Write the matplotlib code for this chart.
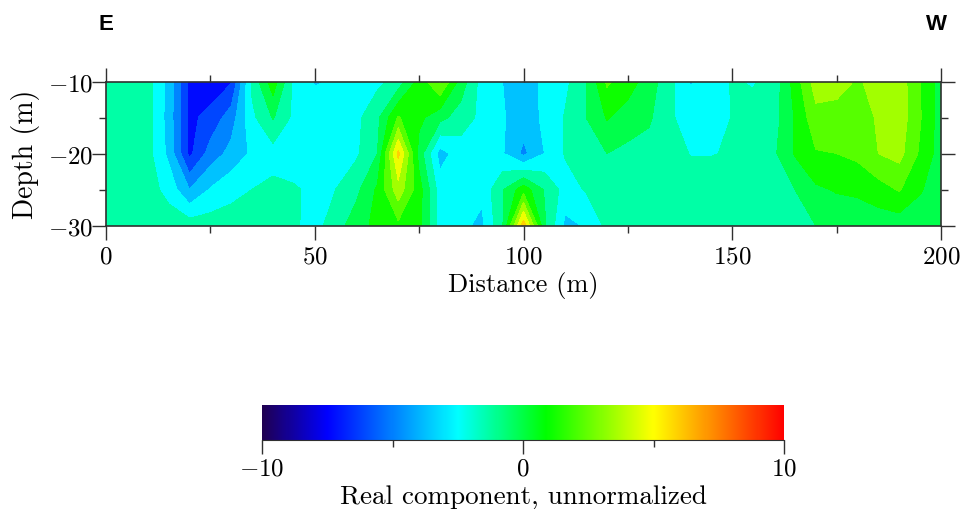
import numpy as np
import matplotlib
matplotlib.use("Agg")
import matplotlib.pyplot as plt
from matplotlib.cm import ScalarMappable
from matplotlib.colors import LinearSegmentedColormap, Normalize

plt.rcParams["font.family"] = ["cmr10", "DejaVu Serif"]
plt.rcParams["mathtext.fontset"] = "cm"
plt.rcParams["axes.formatter.use_mathtext"] = True

distance = np.arange(0, 201, 5)
depth = [-10, -15, -20, -25, -30]

# real component, one row per depth (5 m steps, 10 per line)
row_10 = [-1.3, -1.3, -1.4, -3.5, -7.0, -7.5, -6.8, -1.6, 1.2, -2.2,
          -3.2, -3.0, -2.5, -2.2, -1.4, 0.9, 3.0, 0.0, -2.4, -3.1,
          -3.6, -2.9, -2.2, -0.8, 1.9, 1.1, -0.1, -1.5, -3.2, -2.6,
          -1.8, -2.0, -1.4, 1.0, 3.5, 3.3, 2.8, 3.2, 3.6, 1.7,
          -0.1]
row_15 = [-1.3, -1.3, -1.4, -3.6, -7.0, -6.3, -4.9, -2.2, -0.6, -2.2,
          -2.4, -2.4, -2.2, -1.0, 1.8, 0.8, -0.3, -1.3, -2.2, -3.0,
          -3.7, -2.9, -1.8, -0.7, 0.6, -0.1, -0.5, -1.7, -2.5, -2.5,
          -1.85, -1.5, -1.2, 0.6, 2.5, 2.5, 2.5, 3.0, 3.6, 1.8,
          -0.1]
row_20 = [-1.3, -1.3, -1.5, -3.4, -7.0, -5.0, -3.9, -2.9, -2.4, -2.4,
          -2.4, -2.4, -2.1, -0.7, 5.6, 0.0, -3.6, -2.5, -2.2, -3.0,
          -4.6, -3.1, -1.8, -1.3, -0.7, -1.0, -1.2, -1.4, -1.95, -1.95,
          -1.8, -1.3, -0.9, 0.6, 1.6, 1.7, 2.0, 2.9, 3.3, 1.5,
          -0.1]
row_25 = [-1.3, -1.3, -1.4, -2.3, -4.3, -3.0, -2.3, -1.9, -1.6, -1.8,
          -2.1, -1.9, -1.0, 0.7, 3.6, 1.0, -2.5, -2.5, -2.8, -0.8,
          1.2, -0.8, -2.4, -1.8, -1.4, -1.3, -1.3, -1.3, -1.3, -1.3,
          -1.3, -1.3, -1.2, -0.7, 0.3, 0.6, 0.7, 1.2, 1.8, 0.6,
          -0.1]
row_30 = [-1.3, -1.3, -1.3, -1.3, -1.3, -1.3, -1.3, -1.3, -1.3, -1.7,
          -2.4, -1.2, -0.1, 0.9, 1.4, 0.9, -2.4, -2.8, -3.4, -0.8,
          6.0, -0.5, -3.4, -3.0, -1.6, -1.3, -1.3, -1.3, -1.3, -1.3,
          -1.3, -1.3, -1.3, -1.2, -0.7, -0.3, -0.2, -0.2, -0.2, -0.1,
          -0.1]
values = np.array([row_10, row_15, row_20, row_25, row_30])

levels = 0.5 + 1.2 * np.arange(-9, 9)

cbar_stops = [(0.0, "#200050"), (0.125, "#0000ff"), (0.375, "#00ffff"),
              (0.545, "#00ff00"), (0.75, "#ffff00"), (1.0, "#ff0000")]
cmap = LinearSegmentedColormap.from_list("rainbow_real", cbar_stops, N=512)
norm = Normalize(-10, 10)

W, H = 963, 510
fig = plt.figure(figsize=(W / 100, H / 100), dpi=100)

ax = fig.add_axes([106 / W, 1 - 226.5 / H, 835 / W, 144 / H])
ax.contourf(distance, depth, values, levels=levels, cmap=cmap, norm=norm)
ax.set_xlim(0, 200)
ax.set_ylim(-30, -10)
ax.set_xticks([0, 50, 100, 150, 200])
ax.set_xticks([25, 75, 125, 175], minor=True)
ax.set_yticks([-30, -20, -10])
ax.set_yticks([-25, -15], minor=True)
ax.set_yticklabels(["$-30$", "$-20$", "$-10$"])
ax.tick_params(which="major", direction="out", length=10, width=1, top=True,
               right=True, labelsize=18, pad=4, color="#303030")
ax.tick_params(which="minor", direction="out", length=5, width=1, top=True,
               right=True, color="#303030")
ax.tick_params(axis="y", which="major", pad=-1)
ax.set_xlabel("Distance (m)", fontsize=19, labelpad=3)
ax.set_ylabel("Depth (m)", fontsize=20, labelpad=6)
for s in ax.spines.values():
    s.set_color("#303030")
    s.set_linewidth(1.2)

cax = fig.add_axes([262 / W, 1 - 440.5 / H, 522 / W, 35 / H])
cb = fig.colorbar(ScalarMappable(norm=norm, cmap=cmap), cax=cax,
                  orientation="horizontal")
cb.outline.set_visible(False)
cax.spines["bottom"].set_visible(True)
cax.spines["bottom"].set_color("#303030")
cb.set_ticks([-10, 0, 10], labels=["$-10$", "$0$", "$10$"])
cb.set_ticks([-5, 5], minor=True)
cax.tick_params(which="major", length=10, width=1, labelsize=18, pad=3, color="#303030")
cax.tick_params(which="minor", length=5, width=1, color="#303030")
cb.set_label("Real component, unnormalized", fontsize=19.5, labelpad=3)

fig.text(98 / W, 1 - 25 / H, "E", fontsize=16, fontweight="bold",
         family="Liberation Sans", va="center")
fig.text(926 / W, 1 - 25 / H, "W", fontsize=16, fontweight="bold",
         family="Liberation Sans", va="center")

fig.savefig("out.png", dpi=100)
